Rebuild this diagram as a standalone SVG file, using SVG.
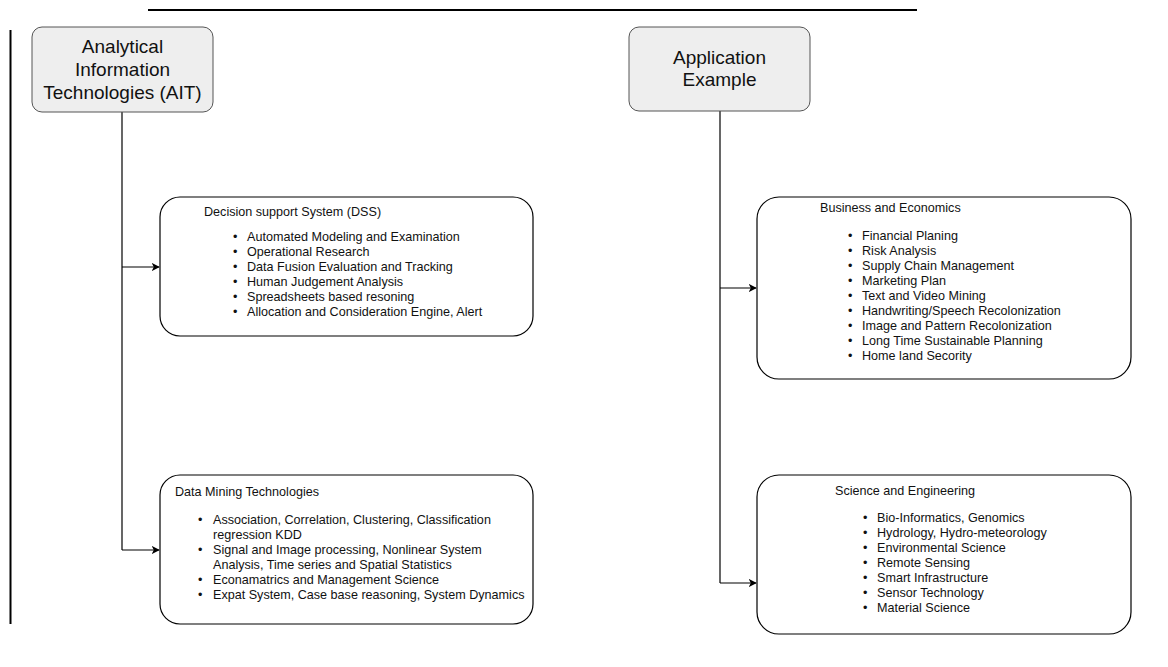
<svg xmlns="http://www.w3.org/2000/svg" width="1168" height="667" viewBox="0 0 1168 667">
  <style>
    .hdr { fill: #eeeeee; stroke: #555555; stroke-width: 1; }
    .box { fill: #ffffff; stroke: #000000; stroke-width: 1.2; }
    .big { font-family: "Liberation Sans", Arial, sans-serif; font-size: 19px; fill: #111; text-anchor: middle; }
    .t { font-family: "Liberation Sans", Arial, sans-serif; font-size: 12.6px; fill: #111; }
    .rule { stroke: #000; stroke-width: 2; }
    .wire { fill: none; stroke: #000; stroke-width: 1.2; }
  </style>
  <defs>
    <marker id="arrow" viewBox="0 0 10 10" refX="9" refY="5" markerWidth="8" markerHeight="8" markerUnits="userSpaceOnUse" orient="auto">
      <path d="M0,0 L10,5 L0,10 L2.5,5 Z" fill="#000"/>
    </marker>
  </defs>
  <rect width="1168" height="667" fill="#ffffff"/>

  <!-- frame rules -->
  <line class="rule" x1="148" y1="10" x2="917" y2="10"/>
  <line class="rule" x1="10.5" y1="30" x2="10.5" y2="624"/>

  <!-- connectors -->
  <g id="connectors">
    <path class="wire" d="M122,112 V550"/>
    <path class="wire" d="M122,267 H159" marker-end="url(#arrow)"/>
    <path class="wire" d="M122,550 H159" marker-end="url(#arrow)"/>
    <path class="wire" d="M720,111 V583"/>
    <path class="wire" d="M720,288 H756" marker-end="url(#arrow)"/>
    <path class="wire" d="M720,583 H756" marker-end="url(#arrow)"/>
  </g>

  <g id="ait">
    <rect class="hdr" x="32" y="27" width="181" height="85" rx="10"/>
    <text class="big" x="122.5" y="53">Analytical</text>
    <text class="big" x="122.5" y="76">Information</text>
    <text class="big" x="122.5" y="99">Technologies (AIT)</text>
  </g>

  <g id="application">
    <rect class="hdr" x="629" y="27" width="181" height="84" rx="10"/>
    <text class="big" x="719.5" y="64">Application</text>
    <text class="big" x="719.5" y="86">Example</text>
  </g>

  <g id="dss">
    <rect class="box" x="160" y="197" width="373" height="139" rx="20"/>
    <text class="t" x="204" y="216">Decision support System (DSS)</text>
    <g class="t">
      <text x="233" y="241">•</text><text x="247" y="241">Automated Modeling and Examination</text>
      <text x="233" y="256">•</text><text x="247" y="256">Operational Research</text>
      <text x="233" y="271">•</text><text x="247" y="271">Data Fusion Evaluation and Tracking</text>
      <text x="233" y="286">•</text><text x="247" y="286">Human Judgement Analysis</text>
      <text x="233" y="301">•</text><text x="247" y="301">Spreadsheets based resoning</text>
      <text x="233" y="316">•</text><text x="247" y="316">Allocation and Consideration Engine, Alert</text>
    </g>
  </g>

  <g id="data-mining">
    <rect class="box" x="160" y="475" width="373" height="149" rx="20"/>
    <text class="t" x="175" y="496">Data Mining Technologies</text>
    <g class="t">
      <text x="198" y="524">•</text><text x="213" y="524">Association, Correlation, Clustering, Classification</text>
      <text x="213" y="539">regression KDD</text>
      <text x="198" y="554">•</text><text x="213" y="554">Signal and Image processing, Nonlinear System</text>
      <text x="213" y="569">Analysis, Time series and Spatial Statistics</text>
      <text x="198" y="584">•</text><text x="213" y="584">Econamatrics and Management Science</text>
      <text x="198" y="599">•</text><text x="213" y="599">Expat System, Case base reasoning, System Dynamics</text>
    </g>
  </g>

  <g id="business">
    <rect class="box" x="757" y="197" width="374" height="182" rx="22"/>
    <text class="t" x="820" y="212">Business and Economics</text>
    <g class="t">
      <text x="848" y="240">•</text><text x="862" y="240">Financial Planing</text>
      <text x="848" y="255">•</text><text x="862" y="255">Risk Analysis</text>
      <text x="848" y="270">•</text><text x="862" y="270">Supply Chain Management</text>
      <text x="848" y="285">•</text><text x="862" y="285">Marketing Plan</text>
      <text x="848" y="300">•</text><text x="862" y="300">Text and Video Mining</text>
      <text x="848" y="315">•</text><text x="862" y="315">Handwriting/Speech Recolonization</text>
      <text x="848" y="330">•</text><text x="862" y="330">Image and Pattern Recolonization</text>
      <text x="848" y="345">•</text><text x="862" y="345">Long Time Sustainable Planning</text>
      <text x="848" y="360">•</text><text x="862" y="360">Home land Secority</text>
    </g>
  </g>

  <g id="science">
    <rect class="box" x="757" y="475" width="374" height="159" rx="22"/>
    <text class="t" x="835" y="495">Science and Engineering</text>
    <g class="t">
      <text x="863" y="522">•</text><text x="877" y="522">Bio-Informatics, Genomics</text>
      <text x="863" y="537">•</text><text x="877" y="537">Hydrology, Hydro-meteorology</text>
      <text x="863" y="552">•</text><text x="877" y="552">Environmental Science</text>
      <text x="863" y="567">•</text><text x="877" y="567">Remote Sensing</text>
      <text x="863" y="582">•</text><text x="877" y="582">Smart Infrastructure</text>
      <text x="863" y="597">•</text><text x="877" y="597">Sensor Technology</text>
      <text x="863" y="612">•</text><text x="877" y="612">Material Science</text>
    </g>
  </g>
</svg>
